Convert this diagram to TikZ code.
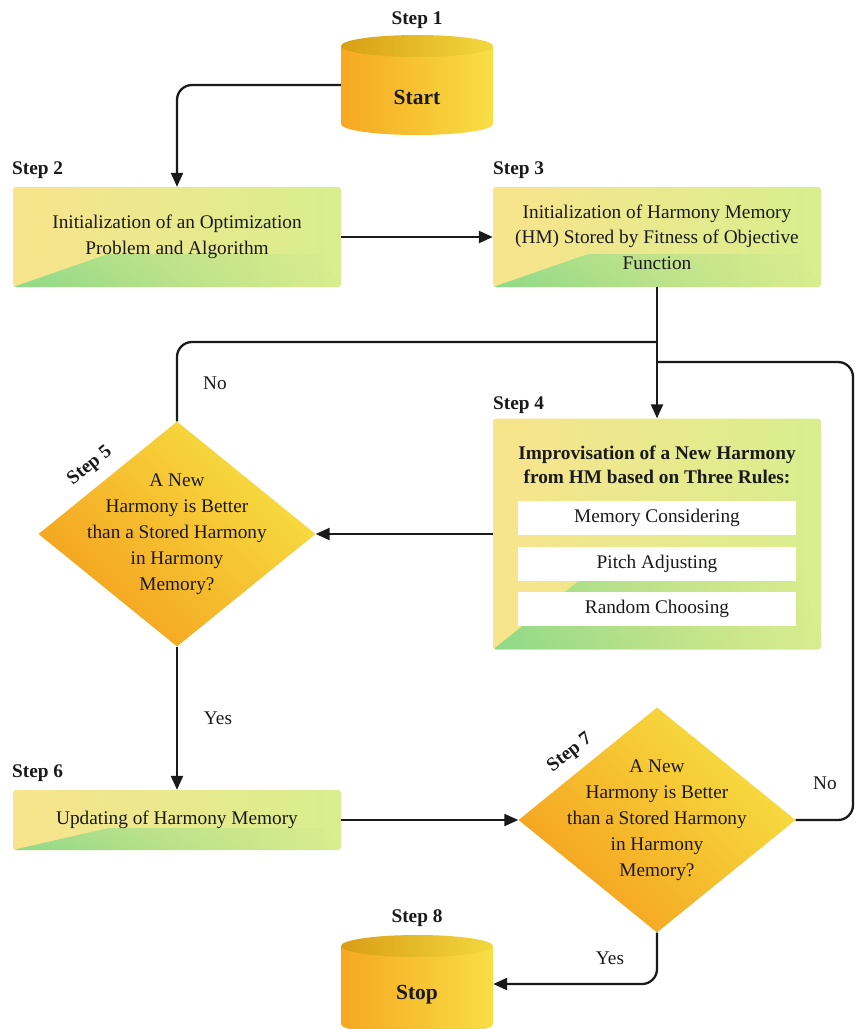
\documentclass[tikz,border=0pt]{standalone}
\usepackage{fontspec}
\setmainfont{Liberation Serif}
\usetikzlibrary{shapes.geometric,arrows.meta,fadings,calc}
\definecolor{bxL}{HTML}{F9E48C}
\definecolor{bxR}{HTML}{D8EE8E}
\definecolor{wedgec}{HTML}{8CDA88}
\definecolor{cylL}{HTML}{F6A821}
\definecolor{cylR}{HTML}{F8DE45}
\definecolor{topL}{HTML}{D89E16}
\definecolor{topR}{HTML}{F3D83E}
\definecolor{dOr}{HTML}{F4A01E}
\definecolor{dYe}{HTML}{F7E042}
\definecolor{ink}{HTML}{1A1A1A}
\newcommand\mycyl[3]{%
  \shade[left color=cylL, right color=cylR] (#1-76,#2) -- (#1-76,#3)
    arc[start angle=180,end angle=360,x radius=76pt,y radius=11pt] -- (#1+76,#2) -- cycle;
  \shade[left color=topL, right color=topR] (#1,#2) ellipse[x radius=76pt, y radius=11pt];}
\tikzset{
  stepbox/.style={rectangle, rounded corners=3pt, left color=bxL, right color=bxR, inner sep=0pt,
    path picture={\shade[bottom color=wedgec, top color=wedgec!45!bxR, path fading=east]
      (path picture bounding box.south west) -- ++(95pt,#1)
      -- ($(path picture bounding box.south east)+(-20pt,#1)$) -- (path picture bounding box.south east) -- cycle;}},
  stepbox/.default=33pt,
  decis/.style={diamond, inner sep=0pt, minimum width=277pt, minimum height=225pt,
    bottom color=dOr, top color=dYe, shading angle=-45},
  txt/.style={font=\fontsize{19.3}{25.5}\selectfont, align=center, text=ink, inner sep=0pt},
  dtxt/.style={font=\fontsize{19.3}{26}\selectfont, align=center, text=ink, inner sep=0pt},
  lbl/.style={font=\fontsize{19.3}{23}\selectfont\bfseries, text=ink, inner sep=0pt},
  big/.style={font=\fontsize{21.5}{25}\selectfont\bfseries, text=ink, inner sep=0pt},
  rule/.style={rectangle, fill=white, minimum width=278pt, minimum height=34pt, inner sep=0pt,
    font=\fontsize{19.3}{23}\selectfont, text=ink},
  ghost/.style={rectangle, inner sep=0pt, minimum width=152pt, minimum height=100pt},
  conn/.style={draw=ink, line width=2.3pt},
  arr/.style={conn, -{Triangle[length=14pt,width=12pt]}}
}
\begin{document}
\begin{tikzpicture}[x=1pt,y=1pt]
\fill[white] (0,0) rectangle (858,-1029);
\useasboundingbox (0,0) rectangle (858,-1029);
% cylinders
\mycyl{417}{-46}{-124}
\mycyl{417}{-946}{-1024}
\node[ghost] (start) at (417,-85) {};
\node[ghost] (stop) at (417,-984) {};
\node[big] (startt) at (417,-97) {Start};
\node[big] (stopt) at (417,-995) {Stop};
\node[lbl] (l1) at (417,-20) {Step 1};
\node[lbl] (l8) at (417,-918) {Step 8};
% boxes
\node[stepbox, minimum width=328pt, minimum height=100pt] (s2) at (177,-237) {};
\node[txt] (s2t) at (s2) {Initialization of an Optimization\\Problem and Algorithm};
\node[stepbox, minimum width=328pt, minimum height=100pt] (s3) at (657,-237) {};
\node[txt] (s3t) at (s3) {Initialization of Harmony Memory\\(HM) Stored by Fitness of Objective\\Function};
\node[stepbox=76pt, minimum width=328pt, minimum height=231pt] (s4) at (657,-534) {};
\node[txt, font=\fontsize{19.3}{24}\selectfont\bfseries] (s4t) at (657,-465) {Improvisation of a New Harmony\\from HM based on Three Rules:};
\node[rule] (r1) at (657,-518) {Memory Considering};
\node[rule] (r2) at (657,-563.5) {Pitch Adjusting};
\node[rule] (r3) at (657,-609) {Random Choosing};
\node[stepbox=22pt, minimum width=328pt, minimum height=60pt] (s6) at (177,-820) {};
\node[txt] (s6t) at (s6) {Updating of Harmony Memory};
% step labels
\node[lbl, anchor=west] (l2) at (12,-170) {Step 2};
\node[lbl, anchor=west] (l3) at (493,-170) {Step 3};
\node[lbl, anchor=west] (l4) at (493,-405) {Step 4};
\node[lbl, anchor=west] (l6) at (12,-773) {Step 6};
% diamonds
\node[decis] (d5) at (177,-534) {};
\node[dtxt] (d5t) at (d5) {A New\\Harmony is Better\\than a Stored Harmony\\in Harmony\\Memory?};
\node[lbl, rotate=39] (l5) at (90,-466) {Step 5};
\node[decis] (d7) at (657,-820) {};
\node[dtxt] (d7t) at (d7) {A New\\Harmony is Better\\than a Stored Harmony\\in Harmony\\Memory?};
\node[lbl, rotate=38] (l7) at (570,-753) {Step 7};
% connectors
\coordinate (j1) at (657,-342);
\coordinate (j2) at (657,-362);
\coordinate (rc) at (853,-362);
\draw[arr, rounded corners=15pt] (start.west) -| (s2.north);
\draw[arr] (s2.east) -- (s3.west);
\draw[arr] (s3.south) -- (s4.north);
\draw[conn, rounded corners=15pt] (d5.north) |- (j1);
\draw[conn, rounded corners=15pt] (d7.east) -| (rc) -- (j2);
\draw[arr] (s4.west) -- (d5.east);
\draw[arr] (d5.south) -- (s6.north);
\draw[arr] (s6.east) -- (d7.west);
\draw[arr, rounded corners=15pt] (d7.south) |- (stop.east);
% edge labels
\node[txt] (no1) at (215,-383) {No};
\node[txt] (no2) at (825,-783) {No};
\node[txt] (yes1) at (218,-718) {Yes};
\node[txt] (yes2) at (610,-958) {Yes};
\end{tikzpicture}
\end{document}
